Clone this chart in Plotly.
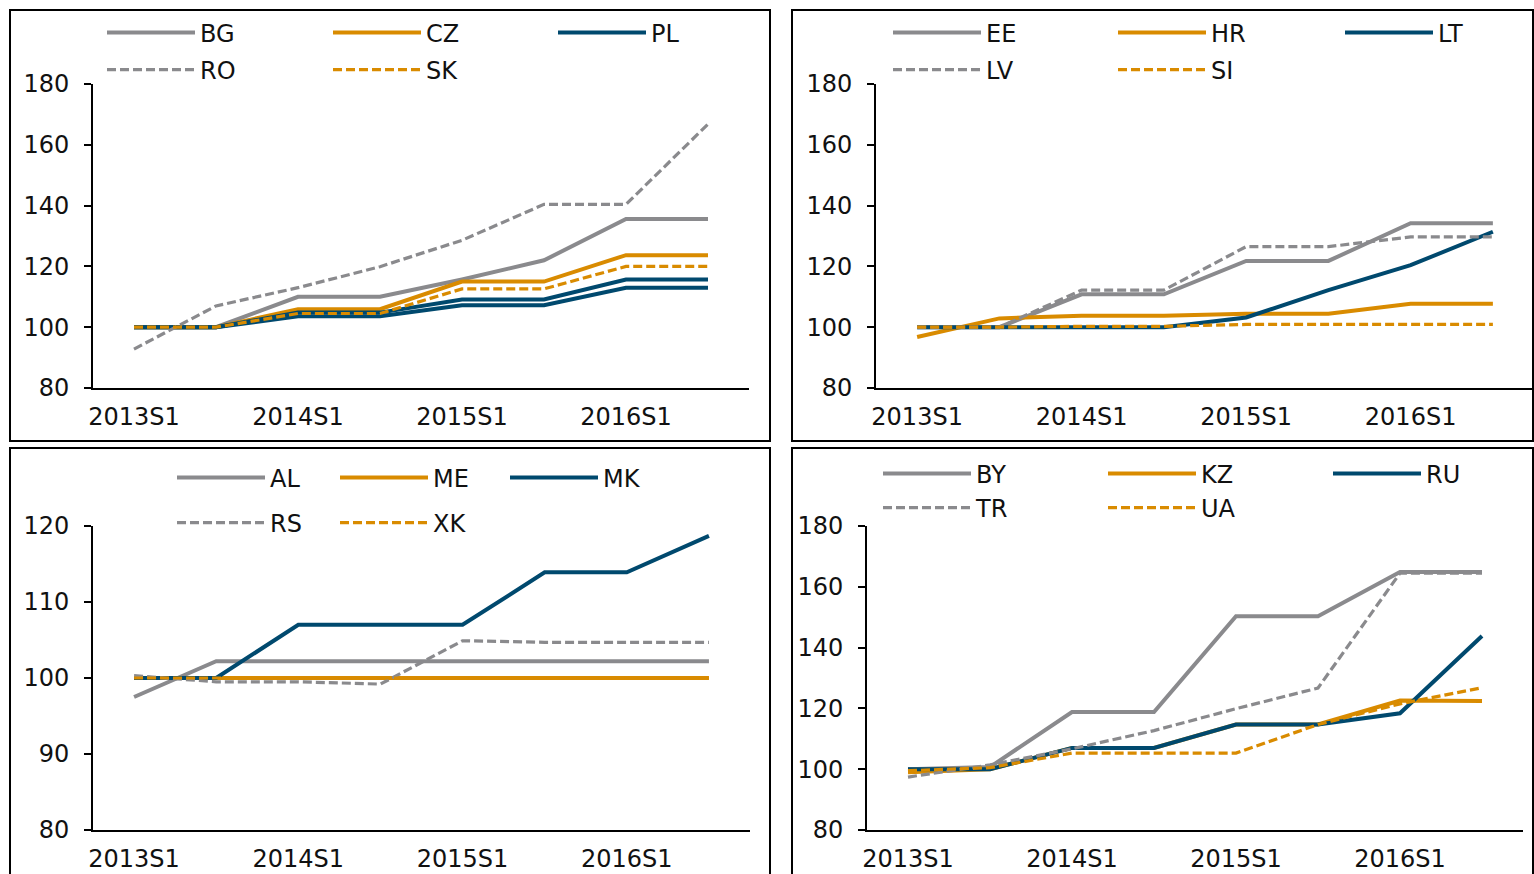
import plotly.graph_objects as go

periods = ["2013S1", "2013S2", "2014S1", "2014S2", "2015S1", "2015S2", "2016S1", "2016S2"]
tick_labels = ["2013S1", "2014S1", "2015S1", "2016S1"]

# Panel 1 (top left)
BG = [100, 100, 110, 110, 115.7, 122, 135.6, 135.6]
CZ = [100, 100, 105.9, 105.9, 115, 115, 123.7, 123.7]
PL = [100, 100, 104.8, 104.8, 109.1, 109.1, 115.7, 115.7]
UNLABELLED = [100, 100, 103.6, 103.6, 107.2, 107.2, 113, 113]
RO = [92.8, 107, 113, 119.9, 128.6, 140.4, 140.4, 166.8]
SK = [100, 100, 104.5, 104.5, 112.6, 112.6, 120, 120]

# Panel 2 (top right)
EE = [100, 100, 110.8, 110.8, 121.8, 121.8, 134.2, 134.2]
HR = [96.8, 102.9, 103.8, 103.8, 104.4, 104.4, 107.7, 107.7]
LT = [100, 100, 100, 100, 103.2, 112.2, 120.4, 131.4]
LV = [100, 100, 112.2, 112.2, 126.5, 126.5, 129.7, 129.7]
SI = [100, 100, 100.3, 100.3, 100.9, 100.9, 100.9, 100.9]

# Panel 3 (bottom left)
AL = [97.5, 102.2, 102.2, 102.2, 102.2, 102.2, 102.2, 102.2]
ME = [100, 100, 100, 100, 100, 100, 100, 100]
MK = [100, 100, 107, 107, 107, 113.9, 113.9, 118.7]
RS = [100.3, 99.5, 99.5, 99.2, 104.9, 104.7, 104.7, 104.7]
XK = [100, 100, 100, 100, 100, 100, 100, 100]

# Panel 4 (bottom right)
BY = [100, 100.7, 118.8, 118.8, 150.3, 150.3, 164.9, 164.9]
KZ = [99, 100, 107, 107, 114.7, 114.7, 122.6, 122.4]
RU = [100, 100, 107, 107, 114.7, 114.7, 118.4, 143.8]
TR = [97.4, 101.4, 106.7, 112.7, 119.9, 126.7, 164.5, 164.5]
UA = [99.5, 100.5, 105.3, 105.3, 105.3, 114.7, 121.5, 126.8]

GRAY = "#8A8A8D"
ORANGE = "#D98B00"
BLUE = "#00496E"
DASH = "9px,4px"
FONT = "DejaVu Sans"
FSIZE = 24
TXT = "#111111"

W, H = 1534, 874


def px_x(p):
    return p / W


def px_y(p):
    return 1 - p / H


# (axis suffix, x domain px, y domain px (top, bottom), y range, y ticks, series)
# series: (name, values, colour, dash, legend position px (x, y) or None)
panels = [
    ("", (93, 749), (84, 388), [80, 180], [80, 100, 120, 140, 160, 180],
     [("BG", BG, GRAY, "solid", (102, 33)), ("CZ", CZ, ORANGE, "solid", (328, 33)),
      ("PL", PL, BLUE, "solid", (553, 33)), ("", UNLABELLED, BLUE, "solid", None),
      ("RO", RO, GRAY, DASH, (102, 70)), ("SK", SK, ORANGE, DASH, (328, 70))]),
    ("2", (876, 1534), (84, 388), [80, 180], [80, 100, 120, 140, 160, 180],
     [("EE", EE, GRAY, "solid", (888, 33)), ("HR", HR, ORANGE, "solid", (1113, 33)),
      ("LT", LT, BLUE, "solid", (1340, 33)),
      ("LV", LV, GRAY, DASH, (888, 70)), ("SI", SI, ORANGE, DASH, (1113, 70))]),
    ("3", (93, 750), (526, 830), [80, 120], [80, 90, 100, 110, 120],
     [("AL", AL, GRAY, "solid", (172, 478)), ("ME", ME, ORANGE, "solid", (335, 478)),
      ("MK", MK, BLUE, "solid", (505, 478)),
      ("RS", RS, GRAY, DASH, (172, 523)), ("XK", XK, ORANGE, DASH, (335, 523))]),
    ("4", (867, 1523), (526, 830), [80, 180], [80, 100, 120, 140, 160, 180],
     [("BY", BY, GRAY, "solid", (878, 474)), ("KZ", KZ, ORANGE, "solid", (1103, 474)),
      ("RU", RU, BLUE, "solid", (1328, 474)),
      ("TR", TR, GRAY, DASH, (878, 508)), ("UA", UA, ORANGE, DASH, (1103, 508))]),
]

fig = go.Figure()
layout = dict(
    width=W, height=H, margin=dict(l=0, r=0, t=0, b=0, autoexpand=False),
    paper_bgcolor="white", plot_bgcolor="white", showlegend=True,
    font=dict(family=FONT, size=FSIZE, color=TXT),
)

leg_n = 0
for ax, xd, yd, yr, yt, series in panels:
    for name, vals, color, dash, lpos in series:
        tr = dict(x=periods, y=vals, mode="lines", name=name,
                  line=dict(color=color, width=4 if dash == "solid" else 3.2, dash=dash),
                  xaxis="x" + ax, yaxis="y" + ax)
        if lpos is None:
            tr["showlegend"] = False
        else:
            leg_n += 1
            key = "legend" if leg_n == 1 else "legend%d" % leg_n
            tr["legend"] = key
            layout[key] = dict(
                x=px_x(lpos[0]), y=px_y(lpos[1]), xanchor="left", yanchor="middle",
                orientation="h", itemwidth=88, bgcolor="rgba(0,0,0,0)", borderwidth=0,
                font=dict(family=FONT, size=FSIZE, color=TXT),
                itemclick=False, itemdoubleclick=False,
            )
        fig.add_trace(go.Scatter(**tr))
    layout["xaxis" + ax] = dict(
        domain=[px_x(xd[0]), px_x(xd[1])], anchor="y" + ax, type="category",
        categoryorder="array", categoryarray=periods,
        range=[-0.5, 7.5], tickvals=tick_labels, ticktext=tick_labels,
        showgrid=False, zeroline=False, showline=True, linecolor="black", linewidth=2,
        ticks="", ticklabelstandoff=6, tickfont=dict(family=FONT, size=FSIZE, color=TXT),
    )
    layout["yaxis" + ax] = dict(
        domain=[px_y(yd[1]), px_y(yd[0])], anchor="x" + ax, range=yr, tickvals=yt,
        showgrid=False, zeroline=False, showline=True, linecolor="black", linewidth=2,
        ticks="outside", ticklen=7, tickwidth=2, tickcolor="black", ticklabelstandoff=10,
        tickfont=dict(family=FONT, size=FSIZE, color=TXT),
    )

# panel frames
frames = [(10, 10, 770, 441), (792, 10, 1533, 441), (10, 448, 770, 880), (792, 448, 1533, 880)]
shapes = []
for x0, y0, x1, y1 in frames:
    shapes.append(dict(type="rect", xref="paper", yref="paper",
                       x0=px_x(x0), x1=px_x(x1), y0=px_y(y1), y1=px_y(y0),
                       line=dict(color="black", width=2), fillcolor="rgba(0,0,0,0)", layer="below"))
layout["shapes"] = shapes

fig.update_layout(**layout)
fig.write_html("out.html", config={"displayModeBar": False},
               post_script="document.body.style.margin='0px';")
